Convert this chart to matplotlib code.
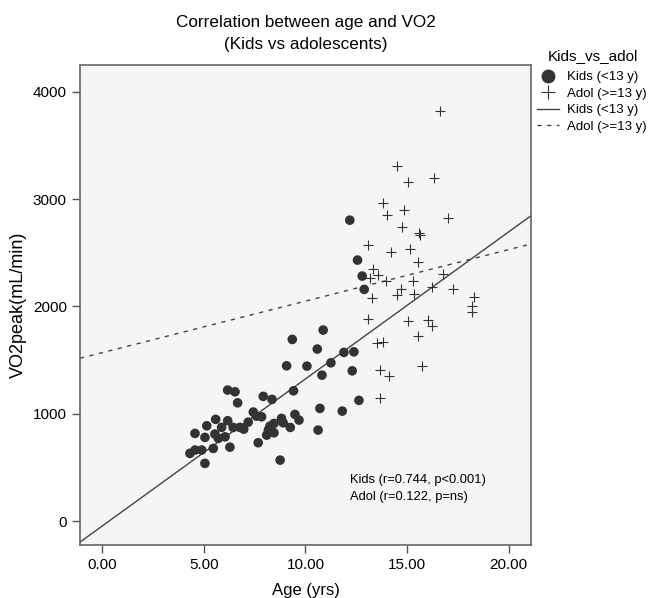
import numpy as np
import matplotlib
matplotlib.use('Agg')
import matplotlib.pyplot as plt
from matplotlib.lines import Line2D

plt.rcParams['font.family'] = ['Liberation Sans', 'DejaVu Sans']

# Kids (<13 y): age (yrs), VO2peak (mL/min)
kids_age = [12.18, 12.56, 12.79, 12.89, 10.87, 9.35, 10.58, 11.89, 12.38, 11.25,
            9.07, 10.07, 10.81, 12.30, 6.17, 6.53, 9.41, 7.92, 8.35, 6.66,
            12.63, 10.71, 11.81, 7.43, 7.59, 7.84, 9.48, 9.68, 8.82, 8.90,
            5.58, 6.17, 5.14, 5.87, 6.44, 6.77, 6.96, 7.18, 8.25, 8.45,
            8.17, 8.45, 8.09, 9.25, 10.62, 5.05, 5.54, 5.71, 6.04, 7.67,
            6.28, 5.46, 4.89, 4.56, 4.31, 5.05, 8.75, 4.56]
kids_vo2 = [2804, 2432, 2283, 2159, 1780, 1693, 1603, 1572, 1577, 1475,
            1447, 1444, 1360, 1400, 1221, 1205, 1214, 1162, 1134, 1102,
            1125, 1050, 1025, 1016, 978, 972, 994, 941, 957, 916,
            948, 935, 888, 873, 873, 873, 857, 922, 885, 910,
            848, 823, 801, 873, 848, 780, 811, 771, 785, 730,
            689, 677, 662, 662, 631, 538, 568, 817]

# Adol (>=13 y)
adol_age = [16.63, 14.48, 15.06, 16.33, 13.82, 14.03, 14.84, 17.02, 14.77, 15.58,
            15.66, 14.20, 15.12, 15.56, 16.77, 13.97, 15.30, 14.71, 14.51, 15.33,
            16.25, 17.25, 18.29, 18.20, 18.19, 15.05, 16.02, 16.22, 13.82, 13.52,
            15.54, 15.75, 13.66, 14.10, 13.68, 13.08, 13.33, 13.58, 13.17, 13.29,
            13.08]
adol_vo2 = [3817, 3311, 3156, 3198, 2966, 2856, 2895, 2826, 2742, 2686,
            2664, 2506, 2537, 2413, 2301, 2236, 2236, 2164, 2107, 2116,
            2180, 2166, 2089, 2001, 1952, 1868, 1877, 1819, 1665, 1663,
            1725, 1447, 1407, 1348, 1146, 2571, 2348, 2295, 2264, 2075,
            1884]

# fit lines (intercept, slope) as shown
kids_fit = (-45, 137.0)
adol_fit = (1570, 48.0)

x_ticks = [0, 5, 10, 15, 20]
y_ticks = [0, 1000, 2000, 3000, 4000]

fig = plt.figure(figsize=(6.49, 5.98), dpi=100)
ax = fig.add_axes([80 / 649, 1 - 544.7 / 598, 451 / 649, 479.7 / 598])
ax.set_facecolor('#f5f5f5')

xlim = (-1.1, 21.1)
ax.set_xlim(xlim)
ax.set_ylim(-220, 4250)

mark_col = '#333333'
ax.scatter(kids_age, kids_vo2, s=48, color=mark_col, edgecolors='none', zorder=3)
ax.scatter(adol_age, adol_vo2, s=55, marker='+', color=mark_col, linewidths=0.8, zorder=3)

xs = np.array(xlim)
ax.plot(xs, kids_fit[0] + kids_fit[1] * xs, color='#444444', lw=1.0, zorder=2)
ax.plot(xs, adol_fit[0] + adol_fit[1] * xs, color='#444444', lw=1.0,
        dashes=(3, 4), zorder=2)

ax.set_xticks(x_ticks)
ax.set_xticklabels(['%.2f' % v for v in x_ticks])
ax.set_yticks(y_ticks)
ax.tick_params(labelsize=11, length=6, width=1, color='#555555', direction='out')
for sp in ax.spines.values():
    sp.set_color('#666666')
    sp.set_linewidth(1.2)

ax.set_xlabel('Age (yrs)', fontsize=12, labelpad=8)
ax.set_ylabel('VO2peak(mL/min)', fontsize=13, labelpad=4)

fig.text(305.5 / 649, 1 - 22 / 598, 'Correlation between age and VO2',
         ha='center', va='center', fontsize=12.3)
fig.text(305.5 / 649, 1 - 45 / 598, '(Kids vs adolescents)',
         ha='center', va='center', fontsize=12.3)

fig.text(350 / 649, 1 - 488.5 / 598, 'Kids (r=0.744, p<0.001)\nAdol (r=0.122, p=ns)',
         fontsize=9.3, va='center', ha='left', linespacing=1.45)

# legend title placed on its own, entries below
fig.text(593 / 649, 1 - 56 / 598, 'Kids_vs_adol', ha='center', va='center', fontsize=11)
handles = [
    Line2D([], [], marker='o', ls='none', color=mark_col, markersize=9),
    Line2D([], [], marker='+', ls='none', color=mark_col, markersize=10, mew=0.8),
    Line2D([], [], color='#444444', lw=1.0),
    Line2D([], [], color='#444444', lw=1.0, dashes=(3, 4)),
]
labels = ['Kids (<13 y)', 'Adol (>=13 y)', 'Kids (<13 y)', 'Adol (>=13 y)']
fig.legend(handles, labels, loc='upper left',
           bbox_to_anchor=(537 / 649, 1 - 71 / 598), frameon=False,
           fontsize=9.5, handlelength=1.7, handletextpad=0.6,
           labelspacing=0.33, borderpad=0, borderaxespad=0)

fig.savefig('out.png', dpi=100)
